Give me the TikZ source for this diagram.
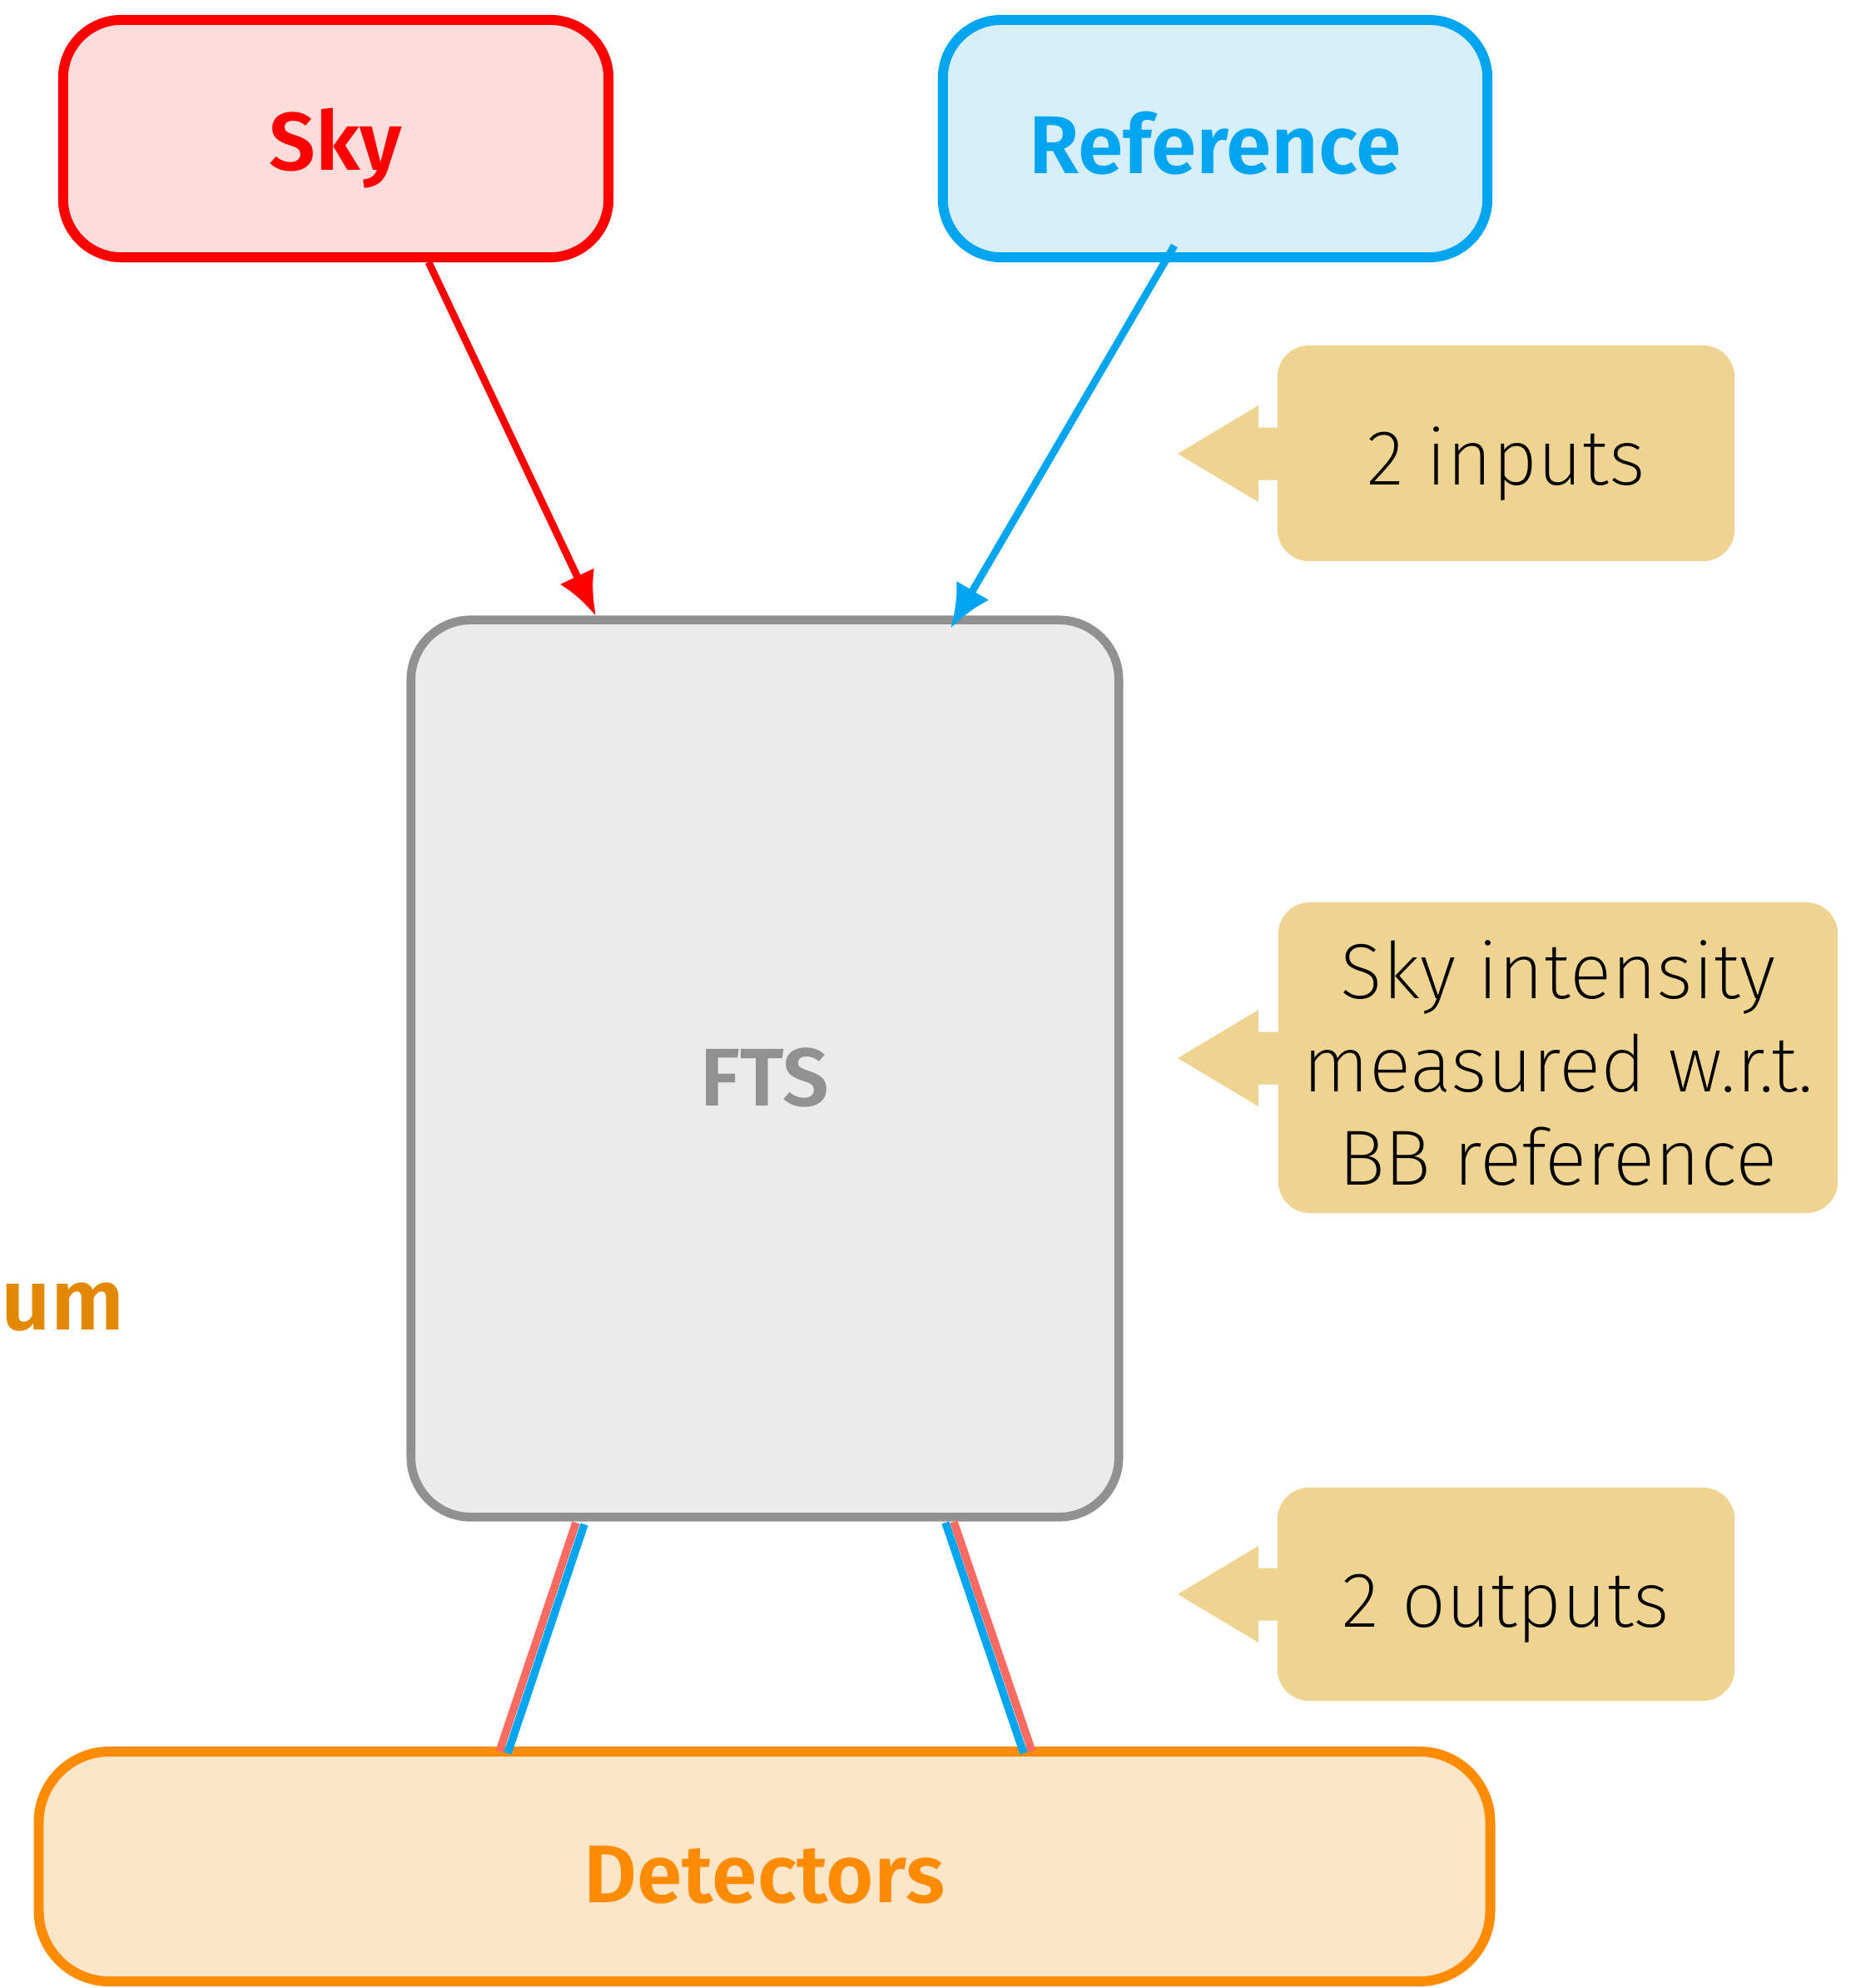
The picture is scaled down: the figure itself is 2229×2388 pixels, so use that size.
\documentclass[tikz,border=0pt]{standalone}
\usepackage{fontspec}
\setmainfont{Fira Sans}[BoldFont={Fira Sans SemiBold}]
\newfontfamily\lightfont{Fira Sans ExtraLight}
\usetikzlibrary{arrows.meta}
\definecolor{skyred}{HTML}{FF0000}
\definecolor{skyfill}{HTML}{FDDCDC}
\definecolor{refblue}{HTML}{00A5EF}
\definecolor{reffill}{HTML}{D6EDFA}
\definecolor{ftsgray}{HTML}{919191}
\definecolor{ftsfill}{HTML}{EBEBEB}
\definecolor{detorange}{HTML}{FF8C00}
\definecolor{detfill}{HTML}{FDE5C9}
\definecolor{umorange}{HTML}{E48800}
\definecolor{calloutc}{HTML}{EED391}
\definecolor{outred}{HTML}{FF6B61}
\begin{document}
\begin{tikzpicture}[x=0.01cm,y=-0.01cm,
  box/.style={draw, rounded corners=0.7cm, line width=3.4pt, inner sep=0pt},
  boxlabel/.style={inner sep=0pt, font=\fontsize{28}{33}\selectfont\bfseries},
  callout/.style={fill=calloutc, rounded corners=0.38cm, inner sep=0pt},
  calltext/.style={align=center, inner sep=0pt, text=black,
    font=\lightfont\fontsize{26.7}{31.9}\selectfont},
  callarrow/.style={fill=calloutc},
  inarrow/.style={line width=2.5pt, -{Latex[length=15pt,width=13pt]}},
  outline/.style={line width=2.7pt}
]
\useasboundingbox (0,0) rectangle (2229,2388);

% boxes
\node[box, draw=skyred, fill=skyfill, minimum width=6.55cm, minimum height=2.85cm]
  (sky) at (403.5,166.5) {};
\node[boxlabel, text=skyred] (skylabel) at (403.5,178) {Sky};
\node[box, draw=refblue, fill=reffill, minimum width=6.54cm, minimum height=2.85cm]
  (ref) at (1460,166.5) {};
\node[boxlabel, text=refblue] (reflabel) at (1460,172) {Reference};
\node[box, draw=ftsgray, fill=ftsfill, line width=3.0pt, rounded corners=0.72cm,
  minimum width=8.5cm, minimum height=10.77cm] (fts) at (919,1283.5) {};
\node[boxlabel, text=ftsgray] (ftslabel) at (919,1294) {FTS};
\node[box, draw=detorange, fill=detfill, rounded corners=0.85cm,
  minimum width=17.43cm, minimum height=2.76cm] (det) at (918.5,2242) {};
\node[boxlabel, text=detorange] (detlabel) at (918.5,2252) {Detectors};

\node[anchor=base east, inner sep=0pt, text=umorange, font=\fontsize{29.5}{33}\selectfont\bfseries]
  (um) at (150,1597) {um};

% input arrows
\coordinate (skyout) at (515,315);
\coordinate (ftsinL) at (716,740);
\coordinate (refout) at (1411,295);
\coordinate (ftsinR) at (1142,755);
\draw[inarrow, skyred] (skyout) -- (ftsinL);
\draw[inarrow, refblue] (refout) -- (ftsinR);

% output lines
\coordinate (oLr1) at (692,1829); \coordinate (oLr2) at (600,2104);
\coordinate (oLb1) at (702,1831); \coordinate (oLb2) at (610,2106);
\coordinate (oRb1) at (1136,1829); \coordinate (oRb2) at (1230,2106);
\coordinate (oRr1) at (1146,1828); \coordinate (oRr2) at (1240,2104);
\draw[outline, outred] (oLr1) -- (oLr2);
\draw[outline, refblue] (oLb1) -- (oLb2);
\draw[outline, refblue] (oRb1) -- (oRb2);
\draw[outline, outred] (oRr1) -- (oRr2);

% callouts
\node[callout, minimum width=5.49cm, minimum height=2.59cm] (c1) at (1809.5,544.5) {};
\node[callout, minimum width=6.72cm, minimum height=3.73cm] (c2) at (1872,1270.5) {};
\node[callout, minimum width=5.49cm, minimum height=2.56cm] (c3) at (1809.5,1915) {};
\foreach \cy in {545, 1271, 1915}{
  \fill[callarrow] (1415,\cy) -- (1512,\cy-58) -- (1512,\cy-31.5) -- (1545,\cy-31.5)
    -- (1545,\cy+31.5) -- (1512,\cy+31.5) -- (1512,\cy+58) -- cycle;
}
\node[calltext] (c1t) at (1809.5,557) {2 inputs};
\node[calltext] (c2t) at (1872,1277) {Sky intensity\\measured w.r.t.\\BB reference};
\node[calltext] (c3t) at (1809.5,1932) {2 outputs};
\end{tikzpicture}
\end{document}
